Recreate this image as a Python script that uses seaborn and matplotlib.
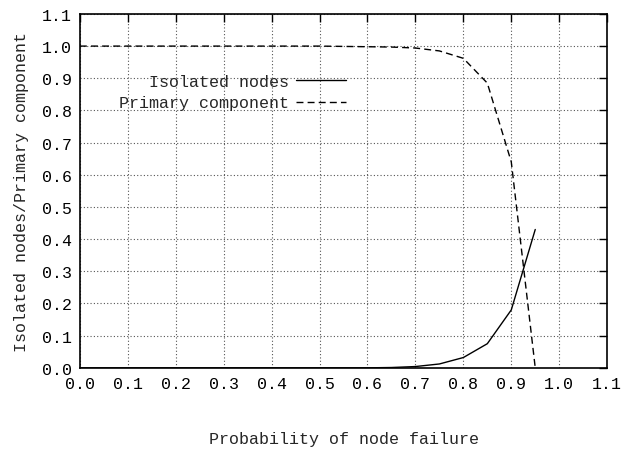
import numpy as np
import pandas as pd
import matplotlib
matplotlib.use("Agg")
import matplotlib.pyplot as plt
import seaborn as sns

# probability of node failure (x values)
p_fail = [0.0, 0.05, 0.1, 0.15, 0.2, 0.25, 0.3, 0.35, 0.4, 0.45,
          0.5, 0.55, 0.6, 0.65, 0.7, 0.75, 0.8, 0.85, 0.9, 0.95]
# fraction of isolated nodes
isolated = [0.0, 0.0, 0.0, 0.0, 0.0, 0.0, 0.0, 0.0, 0.0, 0.0,
            0.0, 0.0, 0.0, 0.001, 0.004, 0.012, 0.032, 0.075, 0.18, 0.43]
# fraction in primary component
primary = [1.0, 1.0, 1.0, 1.0, 1.0, 1.0, 1.0, 1.0, 1.0, 1.0,
           1.0, 0.999, 0.998, 0.997, 0.994, 0.985, 0.962, 0.885, 0.64, 0.0]

df = pd.DataFrame({"p": p_fail, "Isolated nodes": isolated, "Primary component": primary})
long_df = df.melt(id_vars="p", var_name="series", value_name="frac")

sns.set_style("white")
plt.rcParams["font.family"] = ["Liberation Mono", "DejaVu Sans Mono"]
fs = 12

fig = plt.figure(figsize=(6.24, 4.52), dpi=100)
ax = fig.add_axes([0.128, 0.184, 0.845, 0.783])

sns.lineplot(data=long_df, x="p", y="frac", style="series",
             dashes={"Isolated nodes": "", "Primary component": (5, 3)},
             color="black", linewidth=1.0, ax=ax)

ax.set_xlim(0, 1.1)
ax.set_ylim(0, 1.1)
ticks = np.round(np.arange(0, 1.11, 0.1), 1)
ax.set_xticks(ticks)
ax.set_yticks(ticks)
ax.set_xticklabels([f"{t:.1f}" for t in ticks])
ax.set_yticklabels([f"{t:.1f}" for t in ticks])
ax.tick_params(direction="in", top=True, right=True, length=6, width=1.0,
               pad=6, labelsize=fs, colors="black")
ax.grid(True, linestyle=(0, (1, 2)), color="#555555", linewidth=0.8)
for s in ax.spines.values():
    s.set_color("black")
    s.set_linewidth(1.2)

ax.set_xlabel("Probability of node failure", fontsize=fs, labelpad=29)
ax.set_ylabel("Isolated nodes/Primary component", fontsize=fs, labelpad=9)

leg = ax.legend(loc="upper right", bbox_to_anchor=(0.505, 0.83), frameon=False,
                markerfirst=False, handlelength=3.0, fontsize=fs,
                handletextpad=0.4, labelspacing=0.38, borderpad=0, borderaxespad=0)
leg.set_title(None)
leg._legend_box.align = "right"

fig.savefig("out.png", dpi=100)
